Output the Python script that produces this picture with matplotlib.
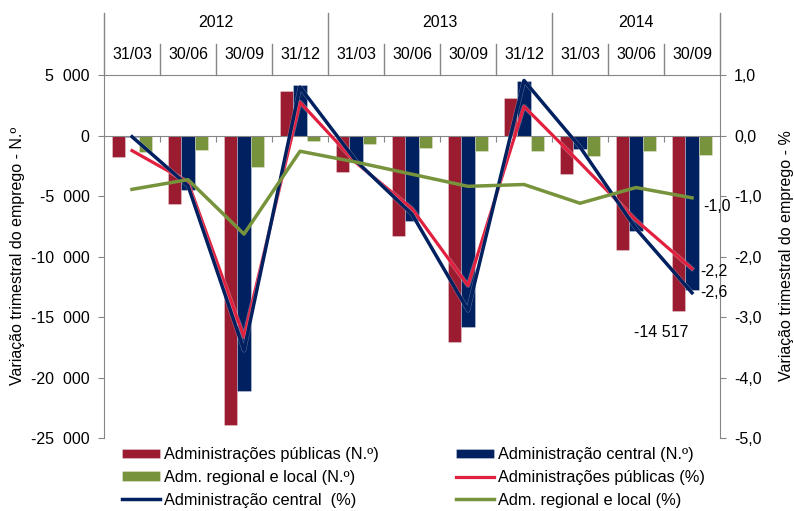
import numpy as np
import matplotlib
matplotlib.use("Agg")
import matplotlib.pyplot as plt  # noqa: E402
import matplotlib.patheffects as pe  # noqa: E402
from matplotlib.ticker import FuncFormatter  # noqa: E402

plt.rcParams['font.family'] = ['Liberation Sans', 'DejaVu Sans']

# quarters (header rows)
years = ["2012", "2013", "2014"]
year_spans = [4, 4, 3]
dates = ["31/03", "30/06", "30/09", "31/12", "31/03", "30/06",
         "30/09", "31/12", "31/03", "30/06", "30/09"]

# N.º (left axis)
ap_n = [-1800, -5700, -23900, 3700, -3000, -8300, -17100, 3100, -3200, -9500, -14517]
ac_n = [-100, -4500, -21100, 4200, -2200, -7100, -15800, 4500, -1100, -7900, -12800]
arl_n = [-1400, -1200, -2600, -450, -700, -1000, -1300, -1300, -1700, -1300, -1600]

# % (right axis)
ap_pct = [-0.25, -0.77, -3.33, 0.55, -0.45, -1.21, -2.48, 0.48, -0.45, -1.40, -2.2]
ac_pct = [-0.02, -0.83, -3.55, 0.80, -0.42, -1.30, -2.89, 0.91, -0.19, -1.54, -2.6]
arl_pct = [-0.89, -0.73, -1.63, -0.26, -0.44, -0.64, -0.84, -0.81, -1.12, -0.86, -1.03]

RED_BAR = "#9B1B30"
NAVY = "#002060"
GREEN = "#77933C"
RED_LINE = "#E0203E"
GREY = "#868686"
FS = 11.5


def thousands(v, sep=" "):
    return f"{v:,.0f}".replace(",", sep)


W, H = 794, 511
fig = plt.figure(figsize=(W / 100, H / 100), dpi=100)
ax = fig.add_axes([104 / W, 1 - 438 / H, 616 / W, 363 / H])

x = np.arange(len(dates))
bw = 0.24
bar_kw = dict(edgecolor=(1, 1, 1, 0.35), linewidth=0.6)
b_ap = ax.bar(x - bw, ap_n, bw, color=RED_BAR, label="Administrações públicas (N.º)", **bar_kw)
b_ac = ax.bar(x, ac_n, bw, color=NAVY, label="Administração central (N.º)", **bar_kw)
b_arl = ax.bar(x + bw, arl_n, bw, color=GREEN, label="Adm. regional e local (N.º)", **bar_kw)

ax.set_xlim(-0.5, len(dates) - 0.5)
ax.set_ylim(-25000, 5000)
ax.set_yticks(np.arange(-25000, 5001, 5000))
ax.yaxis.set_major_formatter(FuncFormatter(lambda v, p: thousands(v, "  ")))
ax.set_xticks(np.arange(0.5, len(dates) - 1, 1.0))
ax.set_xticklabels([])
ax.spines['bottom'].set_position(('data', 0))
for s in ("bottom", "left", "top"):
    ax.spines[s].set_color(GREY)
ax.spines['right'].set_visible(False)
ax.tick_params(axis="x", direction="out", length=4, color=GREY)
ax.tick_params(axis="y", direction="out", length=4, color=GREY, labelsize=FS, pad=6.5)

ax2 = ax.twinx()
edge = [pe.Stroke(linewidth=3.2, foreground=(1, 1, 1, 0.35)), pe.Normal()]
l_ap, = ax2.plot(x, ap_pct, color=RED_LINE, lw=2.3, label="Administrações públicas (%)",
                 path_effects=edge)
l_ac, = ax2.plot(x, ac_pct, color=NAVY, lw=2.5, label="Administração central  (%)",
                 path_effects=edge)
l_arl, = ax2.plot(x, arl_pct, color=GREEN, lw=2.5, label="Adm. regional e local (%)")
ax2.set_ylim(-5, 1)
ax2.set_yticks(np.arange(-5, 1.01, 1))
ax2.yaxis.set_major_formatter(FuncFormatter(lambda v, p: f"{v:.1f}".replace(".", ",")))
for s in ("bottom", "left", "top"):
    ax2.spines[s].set_visible(False)
ax2.spines['right'].set_color(GREY)
ax2.tick_params(axis="y", direction="out", length=4, color=GREY, labelsize=FS, pad=6)

# header table above the plot
hdr = ax.get_xaxis_transform()
y_mid = 1 + 31 / 363
y_top = 1 + 62 / 363
year_edges = list(np.cumsum([0] + year_spans))
for k in range(len(dates) + 1):
    top = y_top if k in year_edges else y_mid
    ax.plot([k - 0.5, k - 0.5], [1, top], transform=hdr, color=GREY, lw=1, clip_on=False)
for i, d in enumerate(dates):
    ax.text(i, 1 + 21 / 363, d, transform=hdr, ha="center", va="center", fontsize=FS)
for yr, a, b in zip(years, year_edges[:-1], year_edges[1:]):
    ax.text((a + b - 1) / 2, 1 + 52 / 363, yr, transform=hdr, ha="center", va="center", fontsize=FS)

# data labels on the last quarter
ax2.annotate(f"{arl_pct[-1]:.1f}".replace(".", ","), (x[-1], arl_pct[-1]), xytext=(11, -9),
             textcoords="offset pixels", ha="left", va="center", fontsize=FS)
ax2.annotate(f"{ap_pct[-1]:.1f}".replace(".", ","), (x[-1], ap_pct[-1]), xytext=(8, -3),
             textcoords="offset pixels", ha="left", va="center", fontsize=FS)
ax2.annotate(f"{ac_pct[-1]:.1f}".replace(".", ","), (x[-1], ac_pct[-1]), xytext=(8, 0),
             textcoords="offset pixels", ha="left", va="center", fontsize=FS)
ax.annotate(thousands(ap_n[-1]), (x[-1] - bw, ap_n[-1]), xytext=(-17, -21),
            textcoords="offset pixels", ha="center", va="center", fontsize=FS)

fig.text(18 / W, 1 - 256 / H, "Variação trimestral do emprego - N.º", rotation=90,
         ha="center", va="center", fontsize=FS)
fig.text(787 / W, 1 - 256 / H, "Variação trimestral do emprego - %", rotation=90,
         ha="center", va="center", fontsize=FS)

leg_kw = dict(loc="upper left", frameon=False, fontsize=11.8, borderpad=0, borderaxespad=0,
              handlelength=2.3, handleheight=0.5, handletextpad=0.25, labelspacing=0.48)
fig.legend([b_ap, b_arl, l_ac], [b_ap.get_label(), b_arl.get_label(), l_ac.get_label()],
           bbox_to_anchor=(122 / W, 1 - 447 / H), **leg_kw)
fig.legend([b_ac, l_ap, l_arl], [b_ac.get_label(), l_ap.get_label(), l_arl.get_label()],
           bbox_to_anchor=(456 / W, 1 - 447 / H), **leg_kw)

fig.savefig("out.png", dpi=100)
